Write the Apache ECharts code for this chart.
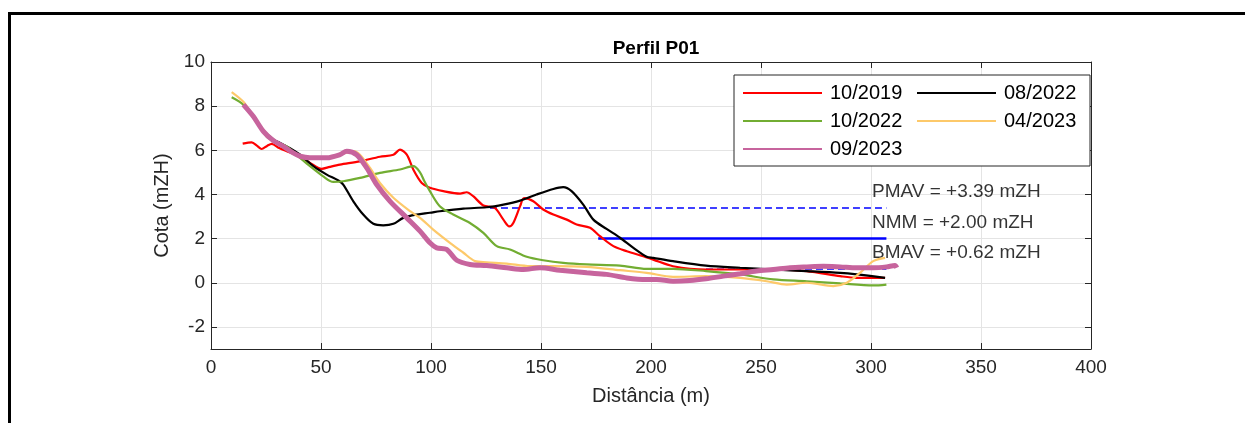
<!DOCTYPE html>
<html>
<head>
<meta charset="utf-8">
<script src="https://cdn.jsdelivr.net/npm/echarts@6/dist/echarts.min.js"></script>
<style>
  html, body { margin: 0; padding: 0; background: #fff; }
  #perfil { width: 1245px; height: 423px; }
</style>
</head>
<body>
<div id="perfil"></div>
<script>
// perfis levantados (distância m, cota mZH)
var p2019 = [[14.4,6.3],[18.5,6.36],[21,6.2],[23,6.06],[25.5,6.2],[27.6,6.29],[31,6.1],[34.4,5.96],[40.5,5.73],[45,5.43],[50.3,5.16],[54,5.25],[58.6,5.35],[67.7,5.5],[76.8,5.71],[82.9,5.8],[85.9,6.03],[89,5.8],[92,5.12],[95.8,4.52],[99.5,4.3],[105.6,4.15],[113.2,4.04],[116.2,4.1],[119.2,3.92],[123.8,3.5],[129,3.39],[132.9,2.86],[135.6,2.55],[137.4,2.71],[140.5,3.47],[142.3,3.83],[146.5,3.69],[151,3.32],[155.6,3.09],[161.7,2.86],[166.2,2.64],[172.3,2.49],[176.8,2.11],[182.9,1.66],[189,1.43],[196.5,1.2],[201,1.05],[210,0.75],[225,0.6],[240.5,0.6],[255.6,0.6],[270.8,0.53],[286,0.3],[293.5,0.22],[306.4,0.22]];
var p082022 = [[15,8.0],[19.2,7.5],[23.8,6.9],[28.3,6.5],[31.4,6.33],[35.9,6.1],[40.5,5.8],[46.5,5.28],[52.6,4.9],[57.9,4.63],[60.1,4.45],[64.7,3.69],[69.2,3.09],[73.8,2.67],[78.3,2.6],[82.9,2.67],[87.4,2.94],[93.5,3.09],[99.5,3.17],[104,3.24],[114.7,3.36],[125.3,3.42],[132.9,3.54],[140.5,3.72],[148,4.0],[155.6,4.25],[160.1,4.33],[163.9,4.15],[169.2,3.54],[173.8,2.86],[179.8,2.44],[185.9,2.04],[192,1.58],[198,1.18],[201,1.13],[210,0.98],[225,0.78],[240.5,0.68],[255.6,0.6],[270.8,0.53],[286,0.45],[293.5,0.38],[306.4,0.22]];
var p102022 = [[9.4,8.4],[14.7,8.07],[19.2,7.5],[25.3,6.63],[30,6.35],[34.4,6.18],[40.5,5.66],[45,5.28],[51,4.82],[55.6,4.57],[60.1,4.6],[67.7,4.75],[76.8,4.98],[85.9,5.13],[92,5.28],[95,5.0],[97,4.6],[99.5,4.15],[104,3.47],[110.1,3.09],[117.7,2.71],[123.8,2.26],[129.9,1.66],[135.9,1.51],[143.5,1.18],[151,1.02],[160.1,0.9],[170.8,0.83],[185.9,0.78],[198,0.63],[210,0.63],[225,0.53],[240.5,0.38],[255.6,0.15],[270.8,0.07],[286,-0.03],[301,-0.12],[307,-0.08]];
var p042023 = [[9.4,8.64],[14.7,8.2],[19.2,7.55],[23.8,6.9],[28.3,6.45],[32.9,6.18],[37.4,5.88],[40.5,5.73],[45,5.66],[52.6,5.66],[58.6,5.8],[64.7,5.96],[67.7,5.8],[72.3,5.2],[76.8,4.52],[82.9,3.85],[90.5,3.24],[95,2.94],[101,2.41],[108.6,1.81],[114.7,1.36],[120,0.98],[125.3,0.93],[134.4,0.87],[145,0.75],[155.6,0.75],[170.8,0.72],[185.9,0.57],[198,0.45],[210,0.27],[225,0.3],[240.5,0.22],[252.6,0.07],[261.7,-0.08],[270.8,0],[282.9,-0.15],[289,0],[295,0.45],[301,0.98],[306.4,1.13]];
var p092023 = [[14.7,8.07],[19.2,7.54],[23.8,6.86],[28.3,6.44],[32.9,6.18],[37.4,5.88],[40.5,5.73],[45,5.66],[52.6,5.66],[58.6,5.8],[61.7,5.96],[66.2,5.8],[70.8,5.2],[75.3,4.45],[81.4,3.69],[89,2.94],[95,2.34],[99.5,1.81],[102.6,1.58],[107.1,1.51],[111.7,1.02],[117.7,0.83],[125.3,0.78],[134.4,0.68],[142,0.6],[149.5,0.68],[158.6,0.57],[170.8,0.45],[179.8,0.38],[189,0.22],[198,0.15],[202.6,0.15],[210,0.07],[217.6,0.1],[225,0.18],[232.9,0.3],[240.5,0.41],[248,0.53],[255.6,0.6],[263.2,0.68],[270.8,0.72],[278.3,0.75],[286,0.72],[293.5,0.68],[301,0.68],[307,0.72],[310.9,0.78],[311.7,0.68]];

// níveis de maré
var pmav = 3.39, nmm = 2.00, bmav = 0.62;
var pmavX = [126.8, 307];
var nmmX = [176, 307];
var bmavX = [225, 307];
var textoX = 300;

var yTicks = [-2, 0, 2, 4, 6, 8, 10];

var cinza = '#262626';
var fonte = 'Liberation Sans, Arial, sans-serif';

function nivel(xs, v) {
    return [[xs[0], v], [xs[1], v]];
}
function txt(nome, v) {
    return [textoX, v, nome + ' = +' + v.toFixed(2) + ' mZH'];
}

var chartDom = document.getElementById('perfil');
var myChart = echarts.init(chartDom);

var option = {
    animation: false,
    backgroundColor: '#fff',
    textStyle: { fontFamily: fonte },
    title: {
        text: 'Perfil P01',
        left: 651,
        top: 34,
        textAlign: 'center',
        textStyle: { fontSize: 19, fontWeight: 'bold', color: '#000', fontFamily: fonte }
    },
    graphic: [{
        type: 'rect',
        shape: { x: 9.5, y: 13.5, width: 1400, height: 600 },
        style: { fill: null, stroke: '#000', lineWidth: 3 },
        silent: true
    }],
    legend: {
        data: ['10/2019', '08/2022', '10/2022', '04/2023', '09/2023'],
        left: 734,
        top: 75,
        width: 350,
        padding: [8, 8, 7, 8],
        itemWidth: 79,
        itemHeight: 14,
        itemGap: 8,
        itemStyle: { opacity: 0 },
        borderColor: cinza,
        borderWidth: 1,
        backgroundColor: '#fff',
        textStyle: { fontSize: 20, color: '#000', width: 78, lineHeight: 20, fontFamily: fonte, padding: [0, 0, 0, 3] }
    },
    grid: { left: 211, right: 154, top: 62, bottom: 74 },
    xAxis: [{
        type: 'value',
        min: 0, max: 400, interval: 50,
        name: 'Distância (m)',
        nameLocation: 'middle',
        nameGap: 37,
        nameTextStyle: { fontSize: 20, color: cinza },
        axisLine: { show: true, onZero: false, lineStyle: { color: cinza, width: 1 } },
        axisTick: { show: true, inside: true, length: 6, lineStyle: { color: cinza } },
        axisLabel: { fontSize: 19, color: cinza, margin: 9 },
        splitLine: { show: true, lineStyle: { color: '#e4e4e4', width: 1 } }
    }, {
        type: 'value',
        position: 'top',
        min: 0, max: 400, interval: 50,
        axisLine: { show: true, onZero: false, lineStyle: { color: cinza, width: 1 } },
        axisTick: { show: true, inside: true, length: 6, lineStyle: { color: cinza } },
        axisLabel: { show: false },
        splitLine: { show: false }
    }],
    yAxis: [{
        type: 'value',
        min: -3, max: 10, interval: 1,
        name: 'Cota (mZH)',
        nameLocation: 'middle',
        nameGap: 34,
        nameTextStyle: { fontSize: 20, color: cinza },
        axisLine: { show: true, onZero: false, lineStyle: { color: cinza, width: 1 } },
        axisTick: { show: true, inside: true, length: 6, customValues: yTicks, lineStyle: { color: cinza } },
        axisLabel: { fontSize: 19, color: cinza, margin: 6, customValues: yTicks },
        splitLine: { show: true, lineStyle: { color: '#e4e4e4', width: 1 } }
    }, {
        type: 'value',
        position: 'right',
        min: -3, max: 10, interval: 1,
        axisLine: { show: true, onZero: false, lineStyle: { color: cinza, width: 1 } },
        axisTick: { show: true, inside: true, length: 6, customValues: yTicks, lineStyle: { color: cinza } },
        axisLabel: { show: false, customValues: yTicks },
        splitLine: { show: false }
    }],
    series: [
        {
            name: 'PMAV', type: 'line', data: nivel(pmavX, pmav), symbol: 'none',
            lineStyle: { color: '#0000ff', width: 1.4, type: [7, 4] }
        },
        {
            name: 'NMM', type: 'line', data: nivel(nmmX, nmm), symbol: 'none',
            lineStyle: { color: '#0000ff', width: 2.5 }
        },
        {
            name: 'BMAV', type: 'line', data: nivel(bmavX, bmav), symbol: 'none',
            lineStyle: { color: '#0000ff', width: 1.4, type: [7, 4] }
        },
        {
            name: '10/2019', type: 'line', data: p2019, symbol: 'none', smooth: 0.3,
            color: '#ff0000', lineStyle: { color: '#ff0000', width: 2.2 }
        },
        {
            name: '08/2022', type: 'line', data: p082022, symbol: 'none', smooth: 0.3,
            color: '#000000', lineStyle: { color: '#000000', width: 2.2 }
        },
        {
            name: '10/2022', type: 'line', data: p102022, symbol: 'none', smooth: 0.3,
            color: '#72ad32', lineStyle: { color: '#72ad32', width: 2.2 }
        },
        {
            name: '04/2023', type: 'line', data: p042023, symbol: 'none', smooth: 0.3,
            color: '#fdc96a', lineStyle: { color: '#fdc96a', width: 2.2 }
        },
        {
            name: '09/2023', type: 'line', data: p092023, symbol: 'none', smooth: 0.3,
            color: '#c7649d', lineStyle: { color: '#c7649d', width: 5 }
        },
        {
            name: 'textos', type: 'scatter', symbolSize: 1,
            itemStyle: { color: 'rgba(0,0,0,0)' },
            data: [txt('PMAV', pmav), txt('NMM', nmm), txt('BMAV', bmav)],
            label: {
                show: true, position: 'inside', offset: [1, -16],
                align: 'left', verticalAlign: 'middle',
                fontSize: 19, color: '#000', fontFamily: fonte,
                formatter: function (p) { return p.value[2]; }
            }
        }
    ]
};

option && myChart.setOption(option);
</script>
</body>
</html>
